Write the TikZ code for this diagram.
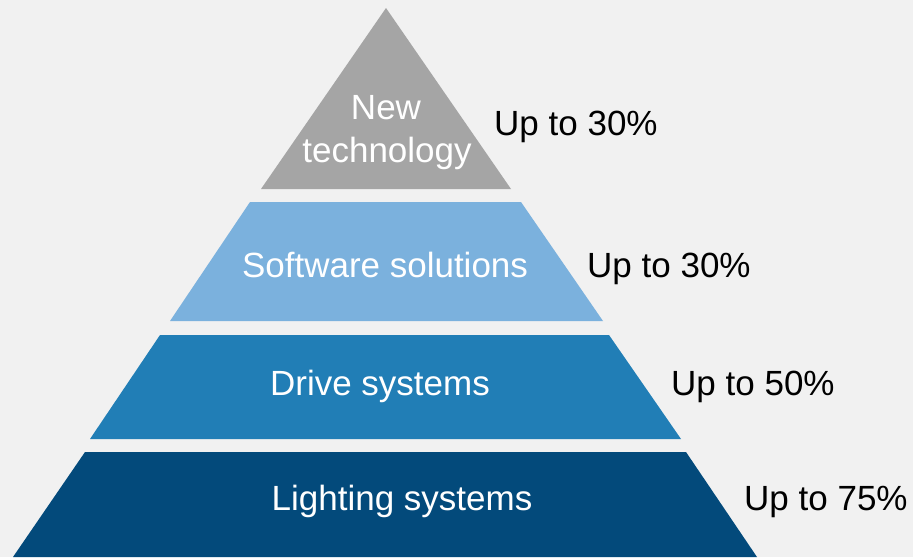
\documentclass[tikz,border=0pt]{standalone}
\usepackage{fontspec}
\setmainfont{Liberation Sans}
\definecolor{bg}{HTML}{F1F1F1}
\definecolor{tiergray}{HTML}{A5A5A5}
\definecolor{tierlight}{HTML}{7BB1DD}
\definecolor{tiermid}{HTML}{217EB6}
\definecolor{tierdark}{HTML}{034A7B}
\tikzset{
  tierlabel/.style={inner sep=0pt, anchor=base, text=white, font=\fontsize{35}{42}\selectfont, align=center},
  pctlabel/.style={inner sep=0pt, anchor=base west, text=black, font=\fontsize{35}{42}\selectfont},
}
\begin{document}
\begin{tikzpicture}[x=1pt,y=-1pt]
\useasboundingbox (0,0) rectangle (913,557);
\fill[bg] (0,0) rectangle (913,557);
% pyramid tiers
\fill[tiergray]  (386,8) -- (511,189) -- (261,189) -- cycle;
\fill[tierlight] (250,202) -- (521,202) -- (603,321) -- (170,321) -- cycle;
\fill[tiermid]   (160,335) -- (609,335) -- (681,439) -- (90,439) -- cycle;
\fill[tierdark]  (85,452) -- (686,452) -- (757,557) -- (13,557) -- cycle;
% tier labels
\node[tierlabel] (t1a) at (386,119) {New};
\node[tierlabel] (t1b) at (387,162) {technology};
\node[tierlabel] (t2) at (385,277) {Software solutions};
\node[tierlabel] (t3) at (380,395) {Drive systems};
\node[tierlabel] (t4) at (402,510) {Lighting systems};
% percentage labels
\node[pctlabel] (p1) at (494,135) {Up to 30\%};
\node[pctlabel] (p2) at (587,277) {Up to 30\%};
\node[pctlabel] (p3) at (671,395) {Up to 50\%};
\node[pctlabel] (p4) at (744,510) {Up to 75\%};
\end{tikzpicture}
\end{document}
